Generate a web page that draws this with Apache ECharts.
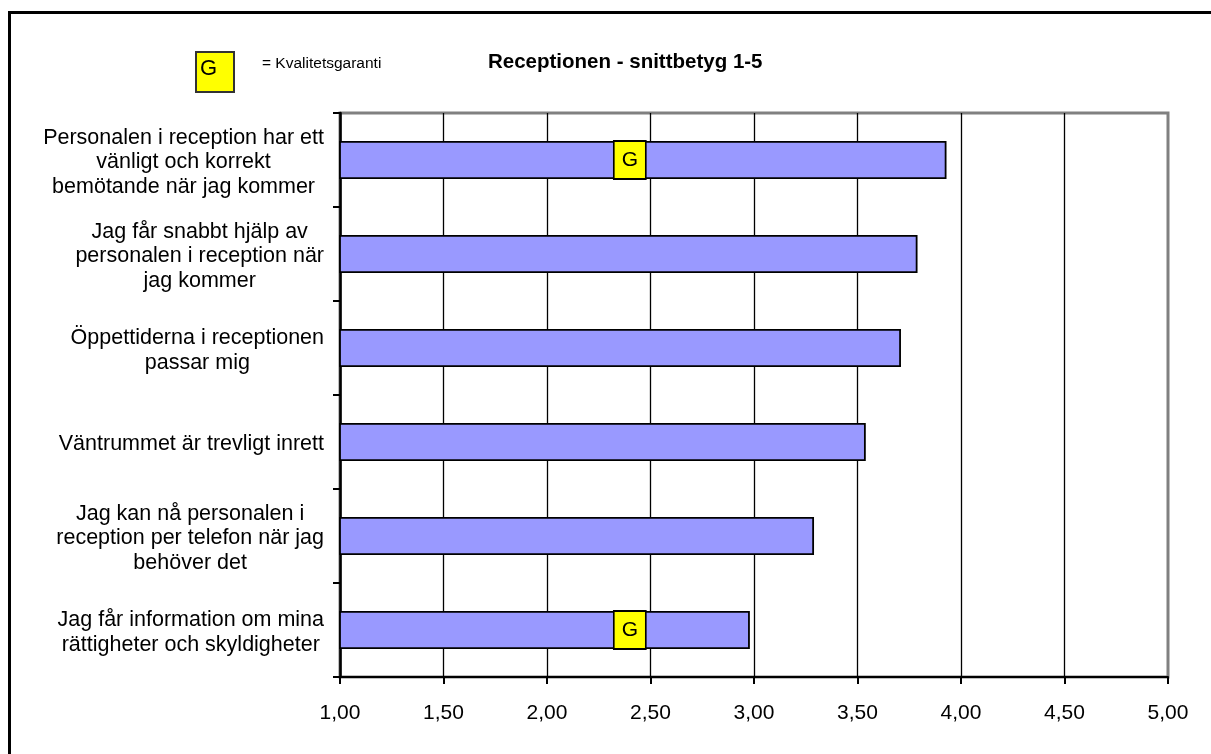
<!DOCTYPE html>
<html>
<head>
<meta charset="utf-8">
<script src="https://cdn.jsdelivr.net/npm/echarts@6/dist/echarts.min.js"></script>
<style>
html,body{margin:0;padding:0;background:#fff;}
#chart{width:1211px;height:754px;}
</style>
</head>
<body>
<div id="chart"></div>
<script>
const FONT = '"Liberation Sans", Arial, sans-serif';

const categories = [
  'Personalen i reception har ett\nvänligt och korrekt\nbemötande när jag kommer',
  'Jag får snabbt hjälp av\npersonalen i reception när\njag kommer',
  'Öppettiderna i receptionen\npassar mig',
  'Väntrummet är trevligt inrett',
  'Jag kan nå personalen i\nreception per telefon när jag\nbehöver det',
  'Jag får information om mina\nrättigheter och skyldigheter'
];
const scores = [3.93, 3.79, 3.71, 3.54, 3.29, 2.98];
const guaranteeIndices = [0, 5];
const guaranteeValue = 2.40;
const axisMin = 1, axisMax = 5, axisStep = 0.5;
const titleText = 'Receptionen - snittbetyg 1-5';
const legendText = '= Kvalitetsgaranti';
const markText = 'G';

const tickCount = Math.round((axisMax - axisMin) / axisStep) + 1;
const splitColors = [];
for (let i = 0; i < tickCount; i++) splitColors.push(i === tickCount - 1 ? 'transparent' : '#000');

const chart = echarts.init(document.getElementById('chart'), null, {renderer: 'canvas'});
chart.setOption({
  backgroundColor: '#fff',
  animation: false,
  title: {
    text: titleText,
    left: 483, top: 47,
    textStyle: {fontFamily: FONT, fontSize: 20.5, fontWeight: 'bold', color: '#000'}
  },
  grid: {
    left: 340, right: 43, top: 113, bottom: 77,
    show: true, borderColor: '#808080', borderWidth: 3, backgroundColor: '#fff'
  },
  xAxis: {
    type: 'value',
    min: axisMin, max: axisMax, interval: axisStep,
    axisLine: {show: true, lineStyle: {color: '#000', width: 2}},
    axisTick: {show: true, length: 7, lineStyle: {color: '#000', width: 2}},
    splitLine: {show: true, lineStyle: {color: splitColors, width: 1.3}},
    axisLabel: {
      margin: 26,
      fontFamily: FONT, fontSize: 21, color: '#000',
      formatter: v => v.toFixed(2).replace('.', ',')
    }
  },
  yAxis: {
    type: 'category',
    inverse: true,
    data: categories,
    axisLine: {show: true, lineStyle: {color: '#000', width: 2.5}},
    axisTick: {show: true, length: 7, lineStyle: {color: '#000', width: 2}},
    splitLine: {show: false},
    axisLabel: {
      margin: 16,
      align: 'right',
      padding: [5, 0, 0, 0],
      formatter: v => v.split('\n').map(l => '{c|' + l + '}').join('\n'),
      rich: {
        c: {align: 'center', fontFamily: FONT, fontSize: 21.5, lineHeight: 24.5, color: '#000'}
      }
    }
  },
  series: [
    {
      type: 'bar',
      data: scores,
      barWidth: 38,
      itemStyle: {color: '#9999FF', borderColor: '#000', borderWidth: 1.8},
      z: 2
    },
    {
      type: 'scatter',
      data: guaranteeIndices.map(i => [guaranteeValue, i]),
      symbol: 'rect',
      symbolSize: [32, 38],
      itemStyle: {color: '#FFFF00', borderColor: '#000', borderWidth: 1.8, opacity: 1},
      label: {show: true, position: 'inside', formatter: markText, fontFamily: FONT, fontSize: 21, color: '#000'},
      z: 3
    }
  ],
  graphic: [
    {
      type: 'rect', silent: true, z: 100,
      shape: {x: 9.5, y: 12.5, width: 1400, height: 900},
      style: {fill: 'none', stroke: '#000', lineWidth: 3}
    },
    {
      type: 'rect', silent: true, z: 100,
      shape: {x: 196, y: 52, width: 38, height: 40},
      style: {fill: '#FFFF00', stroke: '#333', lineWidth: 2}
    },
    {
      type: 'text', silent: true, z: 101,
      x: 200, y: 69,
      style: {text: markText, fontFamily: FONT, fontSize: 22, fill: '#000', align: 'left', verticalAlign: 'middle'}
    },
    {
      type: 'text', silent: true, z: 101,
      x: 262, y: 64,
      style: {text: legendText, fontFamily: FONT, fontSize: 15.5, fill: '#000', align: 'left', verticalAlign: 'middle'}
    }
  ]
});
</script>
</body>
</html>
